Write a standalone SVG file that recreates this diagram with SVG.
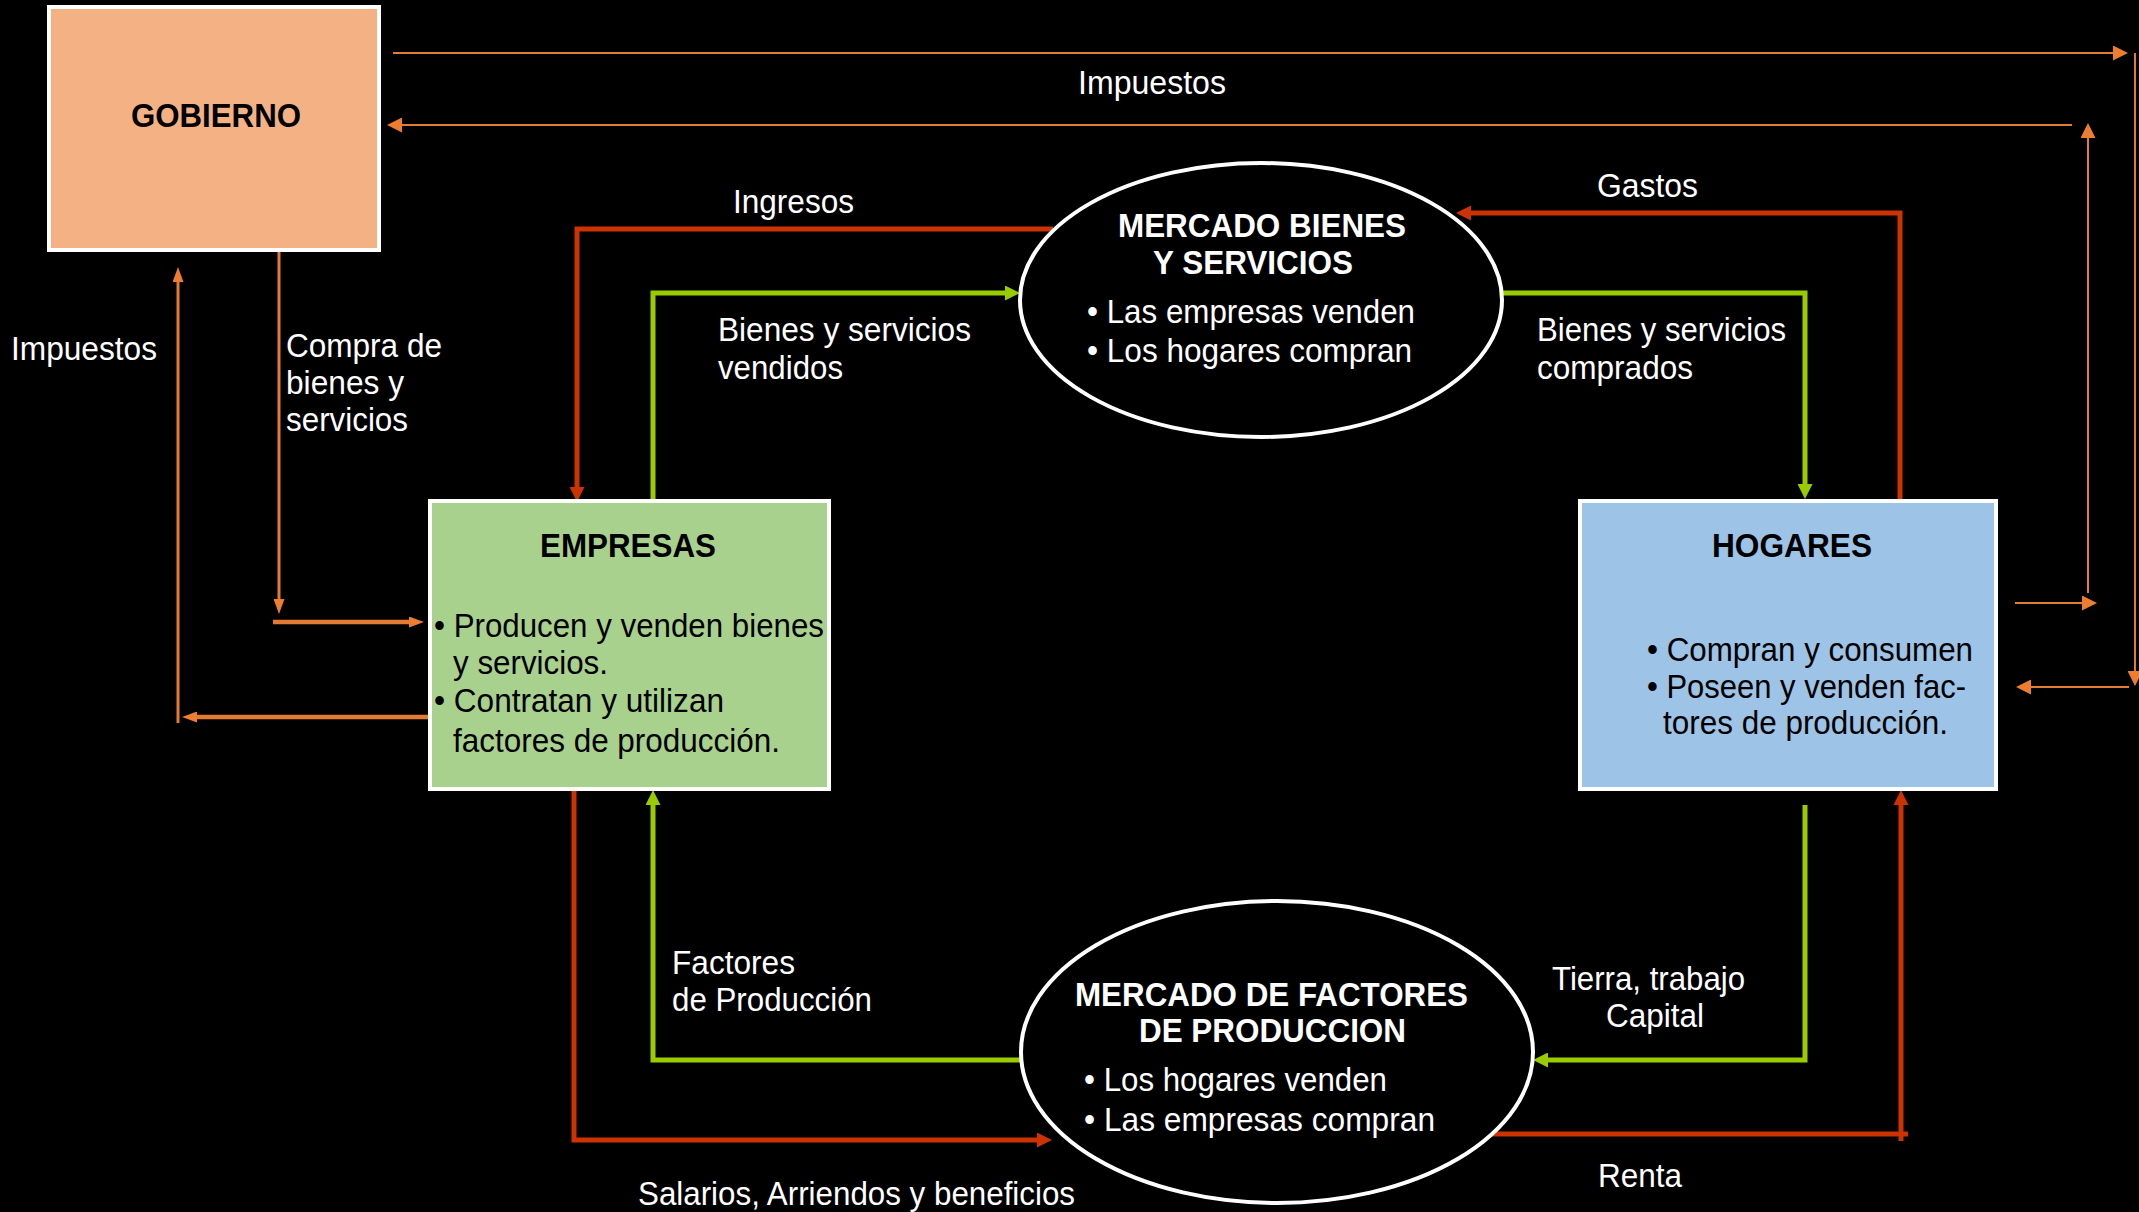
<svg xmlns="http://www.w3.org/2000/svg" width="2139" height="1212" viewBox="0 0 2139 1212">
<defs>
<style>
text{font-family:'Liberation Sans',Arial,sans-serif;font-size:33px}
.w{fill:#fff}
.k{fill:#000}
.b{font-weight:bold}
.box{stroke:#fff;stroke-width:4}
.ell{fill:#000;stroke:#fff;stroke-width:4}
.or{stroke:#E37B33;stroke-width:2;fill:none}
.or3{stroke:#E37B33;stroke-width:3;fill:none}
.or4{stroke:#E37B33;stroke-width:4.5;fill:none}
.rd{stroke:#CC3300;stroke-width:5;fill:none}
.gr{stroke:#99CC00;stroke-width:5;fill:none}
</style>
<marker id="ao" viewBox="0 0 15 15" refX="7" refY="7.5" markerWidth="15" markerHeight="15" orient="auto" markerUnits="userSpaceOnUse"><path d="M0,0 L15,7.5 L0,15 z" fill="#ED7D31"/></marker>
<marker id="aos" viewBox="0 0 15 11" refX="7" refY="5.5" markerWidth="15" markerHeight="11" orient="auto" markerUnits="userSpaceOnUse"><path d="M0,0 L15,5.5 L0,11 z" fill="#ED7D31"/></marker>
<marker id="ar" viewBox="0 0 15 15" refX="7" refY="7.5" markerWidth="15" markerHeight="15" orient="auto" markerUnits="userSpaceOnUse"><path d="M0,0 L15,7.5 L0,15 z" fill="#CC3300"/></marker>
<marker id="ag" viewBox="0 0 15 15" refX="7" refY="7.5" markerWidth="15" markerHeight="15" orient="auto" markerUnits="userSpaceOnUse"><path d="M0,0 L15,7.5 L0,15 z" fill="#99CC00"/></marker>
</defs>
<rect width="2139" height="1212" fill="#000"/>

<g id="connectors">
  <path class="or" d="M393,53 H2120" marker-end="url(#ao)"/>
  <path class="or" d="M2135,53 V678" marker-end="url(#ao)"/>
  <path class="or" d="M2129,687 H2024" marker-end="url(#ao)"/>
  <path class="or" d="M2072,125 H395" marker-end="url(#ao)"/>
  <path class="or" d="M2088,593 V131" marker-end="url(#ao)"/>
  <path class="or" d="M2015,603 H2089" marker-end="url(#ao)"/>
  <path class="or3" d="M279,251 V606" marker-end="url(#aos)"/>
  <path class="or4" d="M273,622 H416" marker-end="url(#aos)"/>
  <path class="or4" d="M429,717 H190" marker-end="url(#aos)"/>
  <path class="or3" d="M178,723 V275" marker-end="url(#aos)"/>
  <path class="rd" d="M1053,229 H577 V494" marker-end="url(#ar)"/>
  <path class="rd" d="M1900,500 V213 H1464" marker-end="url(#ar)"/>
  <path class="rd" d="M574,790 V1140 H1044" marker-end="url(#ar)"/>
  <path class="rd" d="M1485,1134 H1908"/>
  <path class="rd" d="M1901,1141 V798" marker-end="url(#ar)"/>
  <path class="gr" d="M653,500 V293 H1012" marker-end="url(#ag)"/>
  <path class="gr" d="M1501,293 H1805 V491" marker-end="url(#ag)"/>
  <path class="gr" d="M1021,1060 H653 V798" marker-end="url(#ag)"/>
  <path class="gr" d="M1805,805 V1060 H1541" marker-end="url(#ag)"/>
</g>

<g id="gobierno">
  <rect class="box" x="49" y="7" width="330" height="243" fill="#F4B183"/>
  <text class="k b" x="131" y="127" textLength="170" lengthAdjust="spacingAndGlyphs">GOBIERNO</text>
</g>

<g id="empresas">
  <rect class="box" x="430" y="501" width="399" height="288" fill="#A9D18E"/>
  <text class="k b" x="540" y="557" textLength="176" lengthAdjust="spacingAndGlyphs">EMPRESAS</text>
  <text class="k" x="434" y="637" textLength="390" lengthAdjust="spacingAndGlyphs">• Producen y venden bienes</text>
  <text class="k" x="453" y="674" textLength="155" lengthAdjust="spacingAndGlyphs">y servicios.</text>
  <text class="k" x="434" y="712" textLength="290" lengthAdjust="spacingAndGlyphs">• Contratan y utilizan</text>
  <text class="k" x="453" y="752" textLength="327" lengthAdjust="spacingAndGlyphs">factores de producción.</text>
</g>

<g id="hogares">
  <rect class="box" x="1580" y="501" width="416" height="288" fill="#9DC3E6"/>
  <text class="k b" x="1712" y="557" textLength="160" lengthAdjust="spacingAndGlyphs">HOGARES</text>
  <text class="k" x="1647" y="661" textLength="326" lengthAdjust="spacingAndGlyphs">• Compran y consumen</text>
  <text class="k" x="1647" y="698" textLength="319" lengthAdjust="spacingAndGlyphs">• Poseen y venden fac-</text>
  <text class="k" x="1663" y="734" textLength="285" lengthAdjust="spacingAndGlyphs">tores de producción.</text>
</g>

<g id="mercado-bienes">
  <ellipse class="ell" cx="1261" cy="300" rx="241" ry="137"/>
  <text class="w b" x="1118" y="237" textLength="288" lengthAdjust="spacingAndGlyphs">MERCADO BIENES</text>
  <text class="w b" x="1153" y="274" textLength="200" lengthAdjust="spacingAndGlyphs">Y SERVICIOS</text>
  <text class="w" x="1087" y="323" textLength="328" lengthAdjust="spacingAndGlyphs">• Las empresas venden</text>
  <text class="w" x="1087" y="362" textLength="325" lengthAdjust="spacingAndGlyphs">• Los hogares compran</text>
</g>

<g id="mercado-factores">
  <ellipse class="ell" cx="1277" cy="1052" rx="256" ry="151"/>
  <text class="w b" x="1075" y="1006" textLength="393" lengthAdjust="spacingAndGlyphs">MERCADO DE FACTORES</text>
  <text class="w b" x="1139" y="1042" textLength="267" lengthAdjust="spacingAndGlyphs">DE PRODUCCION</text>
  <text class="w" x="1084" y="1091" textLength="303" lengthAdjust="spacingAndGlyphs">• Los hogares venden</text>
  <text class="w" x="1084" y="1131" textLength="351" lengthAdjust="spacingAndGlyphs">• Las empresas compran</text>
</g>

<g id="labels">
  <text class="w" x="1078" y="94" textLength="148" lengthAdjust="spacingAndGlyphs">Impuestos</text>
  <text class="w" x="733" y="213" textLength="121" lengthAdjust="spacingAndGlyphs">Ingresos</text>
  <text class="w" x="1597" y="197" textLength="101" lengthAdjust="spacingAndGlyphs">Gastos</text>
  <text class="w" x="718" y="341" textLength="253" lengthAdjust="spacingAndGlyphs">Bienes y servicios</text>
  <text class="w" x="718" y="379" textLength="125" lengthAdjust="spacingAndGlyphs">vendidos</text>
  <text class="w" x="1537" y="341" textLength="249" lengthAdjust="spacingAndGlyphs">Bienes y servicios</text>
  <text class="w" x="1537" y="379" textLength="156" lengthAdjust="spacingAndGlyphs">comprados</text>
  <text class="w" x="11" y="360" textLength="146" lengthAdjust="spacingAndGlyphs">Impuestos</text>
  <text class="w" x="286" y="357" textLength="156" lengthAdjust="spacingAndGlyphs">Compra de</text>
  <text class="w" x="286" y="394" textLength="118" lengthAdjust="spacingAndGlyphs">bienes y</text>
  <text class="w" x="286" y="431" textLength="122" lengthAdjust="spacingAndGlyphs">servicios</text>
  <text class="w" x="672" y="974" textLength="123" lengthAdjust="spacingAndGlyphs">Factores</text>
  <text class="w" x="672" y="1011" textLength="200" lengthAdjust="spacingAndGlyphs">de Producción</text>
  <text class="w" x="1552" y="990" textLength="193" lengthAdjust="spacingAndGlyphs">Tierra, trabajo</text>
  <text class="w" x="1606" y="1027" textLength="98" lengthAdjust="spacingAndGlyphs">Capital</text>
  <text class="w" x="638" y="1205" textLength="437" lengthAdjust="spacingAndGlyphs">Salarios, Arriendos y beneficios</text>
  <text class="w" x="1598" y="1187" textLength="84" lengthAdjust="spacingAndGlyphs">Renta</text>
</g>
</svg>
